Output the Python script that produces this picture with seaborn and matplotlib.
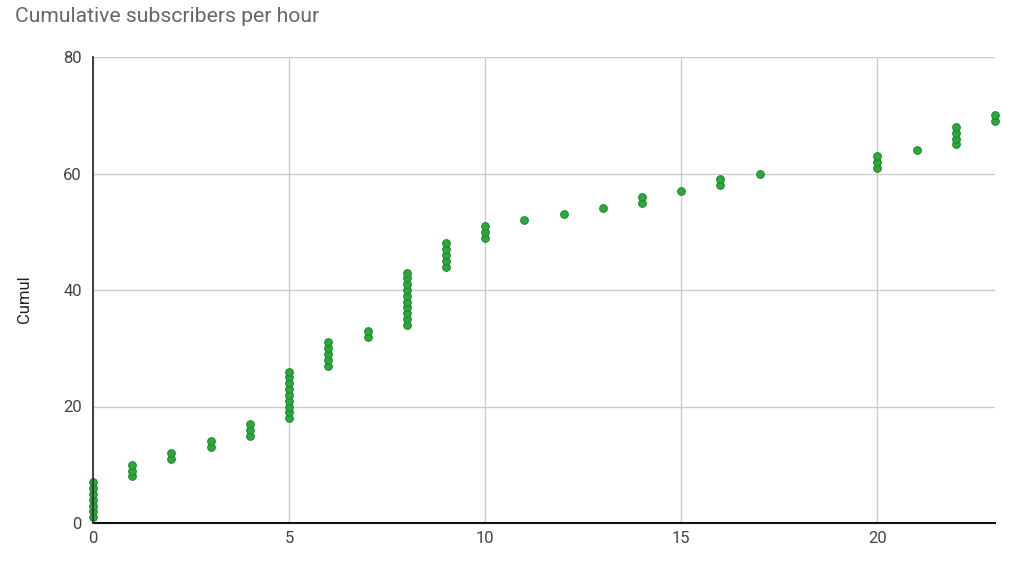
import matplotlib
matplotlib.use("Agg")
import matplotlib.pyplot as plt
import seaborn as sns
import pandas as pd

hours = [0]*7 + [1]*3 + [2]*2 + [3]*2 + [4]*3 + [5]*9 + [6]*5 + [7]*2 + [8]*10 + [9]*5 \
    + [10]*3 + [11] + [12] + [13] + [14]*2 + [15] + [16]*2 + [17] + [20]*3 + [21] + [22]*4 + [23]*2
cumul = list(range(1, 71))
x_ticks = [0, 5, 10, 15, 20]
y_ticks = [0, 20, 40, 60, 80]

df = pd.DataFrame({"Hour": hours, "Cumul": cumul})

sns.set_theme(style="white")
plt.rcParams['font.family'] = ['Roboto', 'DejaVu Sans']

fig = plt.figure(figsize=(10.24, 5.69), dpi=100)
ax = fig.add_axes([93/1024, 46/569, 902/1024, 466/569])

sns.scatterplot(data=df, x="Hour", y="Cumul", ax=ax, color="#2ca83c",
                edgecolor="#1f8a2e", linewidth=0.8, s=30, zorder=3, clip_on=False)

ax.set_xlim(0, 23)
ax.set_ylim(0, 80)
ax.set_xticks(x_ticks)
ax.set_yticks(y_ticks)
ax.grid(True, color="#cccccc", linewidth=1)
ax.set_axisbelow(True)
for s in ["top", "right"]:
    ax.spines[s].set_visible(False)
ax.spines["left"].set_color("#333333")
ax.spines["left"].set_linewidth(1.3)
ax.spines["bottom"].set_color("#111111")
ax.spines["bottom"].set_linewidth(1.5)
ax.spines["left"].set_zorder(4)
ax.tick_params(axis="x", length=0, labelsize=12, labelcolor="#444444", pad=6)
ax.tick_params(axis="y", length=5, width=1, color="#cccccc", labelsize=12,
               labelcolor="#444444", pad=3)
ax.set_xlabel("")
ax.set_ylabel("Cumul", fontsize=12, color="#222222")
ax.yaxis.set_label_coords(-0.068, 0.48)
fig.text(15/1024, 1 - 16/569, "Cumulative subscribers per hour", fontsize=15.2,
         color="#666666", va="center", ha="left")

fig.savefig("out.png", dpi=100)
